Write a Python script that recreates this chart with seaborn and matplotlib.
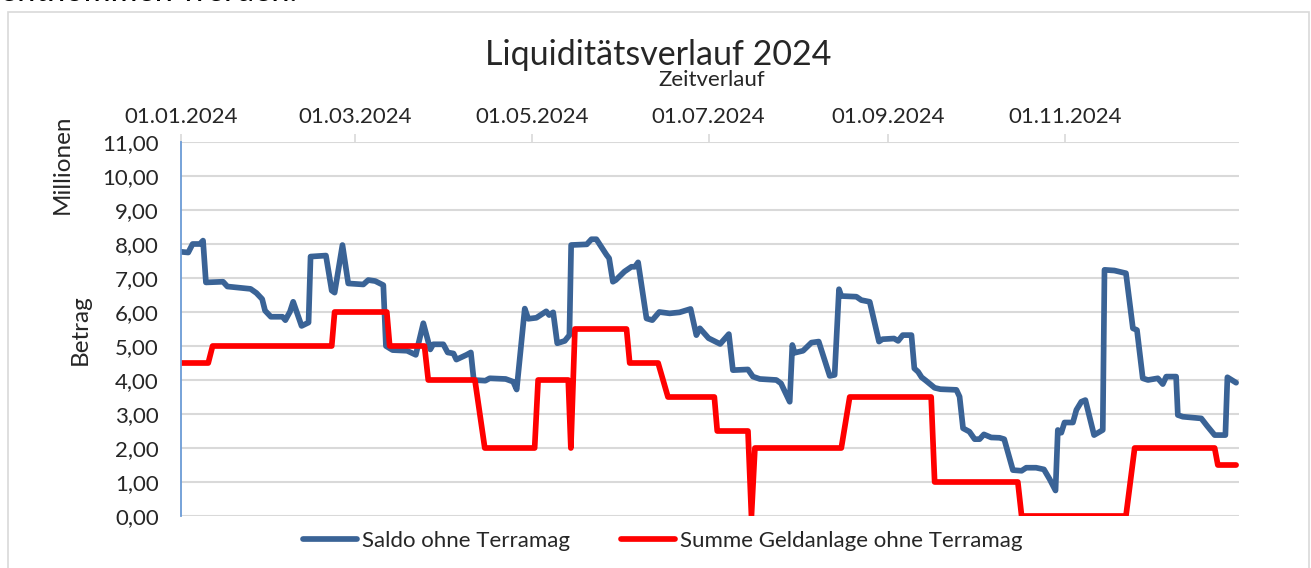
import matplotlib
matplotlib.use("Agg")
import matplotlib.pyplot as plt
import matplotlib.dates as mdates
from matplotlib.ticker import FuncFormatter, MultipleLocator
from matplotlib.patches import Rectangle
import seaborn as sns
import pandas as pd

# Saldo ohne Terramag (Tag im Jahr 2024, Millionen)
saldo_tag = [0, 2.5, 4, 6.5, 7.6, 8.6, 14.5, 16, 24, 26, 28, 29, 31, 35, 36, 37.6, 38.7, 41.6, 44, 44.7,
             50, 52, 53, 55.7, 57.7, 62.9, 64.6, 67, 69.8, 70.7, 73, 78, 81, 83.6, 86, 87, 90.5, 92, 94, 95,
             98.5, 100, 101, 105, 106.5, 112, 114.6, 115.8, 118.6, 119.8, 122.6, 126, 127, 128.4, 129.8,
             132.4, 134, 134.6, 140, 141.6, 143.3, 146.8, 147.7, 149, 150, 153, 155.4, 156.6, 157.7, 160.6,
             162.6, 165, 168.6, 172, 175.8, 177.8, 179, 182, 186, 189, 190.4, 195.6, 197.3, 199.7, 205.4,
             207, 210, 210.9, 211.7, 214.6, 217.5, 220, 223.8, 225.5, 227, 227.8, 233, 234.7, 237.6, 239.5,
             240.8, 242, 246, 247.4, 249, 252, 253, 254.3, 255.5, 257, 260, 262, 267.5, 268.6, 269.8, 272,
             273.8, 275.5, 277, 279.5, 282.4, 284, 287, 290, 291.6, 295, 297.7, 299.7, 301.7, 302.5, 303.7,
             304.8, 307.7, 308.9, 310.6, 312, 315, 318, 318.6, 322, 326, 328.4, 329.8, 331.8, 333.6, 337,
             338.7, 339.9, 343.3, 343.9, 345.6, 352, 354, 356.6, 360.3, 361, 364]
saldo_wert = [7.77, 7.75, 8.0, 8.0, 8.1, 6.87, 6.89, 6.75, 6.68, 6.56, 6.38, 6.04, 5.86, 5.86, 5.76, 6.01, 6.3,
              5.59, 5.69, 7.63, 7.66, 6.63, 6.57, 7.97, 6.84, 6.81, 6.94, 6.91, 6.79, 5.0, 4.88, 4.86, 4.74,
              5.67, 4.9, 5.05, 5.05, 4.81, 4.78, 4.6, 4.74, 4.81, 4.0, 3.98, 4.05, 4.03, 3.95, 3.72, 6.1, 5.8,
              5.83, 6.02, 5.91, 5.99, 5.08, 5.15, 5.32, 7.97, 7.99, 8.14, 8.14, 7.68, 7.58, 6.89, 6.94, 7.19,
              7.33, 7.33, 7.46, 5.81, 5.76, 6.0, 5.96, 5.99, 6.09, 5.32, 5.52, 5.23, 5.06, 5.35, 4.29, 4.31,
              4.1, 4.03, 4.0, 3.9, 3.36, 5.03, 4.8, 4.86, 5.1, 5.13, 4.12, 4.15, 6.67, 6.47, 6.45, 6.35, 6.3,
              5.6, 5.13, 5.2, 5.22, 5.15, 5.32, 5.32, 4.34, 4.24, 4.08, 3.98, 3.77, 3.73, 3.71, 3.51, 2.58,
              2.48, 2.26, 2.26, 2.4, 2.31, 2.3, 2.26, 1.35, 1.33, 1.42, 1.42, 1.37, 1.08, 0.75, 2.53, 2.45,
              2.75, 2.75, 3.12, 3.36, 3.41, 2.38, 2.53, 7.24, 7.22, 7.14, 5.52, 5.47, 4.05, 4.0, 4.05, 3.88,
              4.1, 4.1, 2.97, 2.92, 2.87, 2.65, 2.38, 2.38, 4.08, 3.92]

# Summe Geldanlage ohne Terramag
anlage_tag = [0, 9.4, 10.9, 52, 53, 71, 72, 84, 85.3, 101.4, 104.8, 122, 123.2, 133.6, 134.5, 135.9, 153.7,
              154.8, 164.6, 168, 184, 185, 195.6, 196.8, 198, 227.8, 230.7, 258.8, 260, 288.7, 290, 326, 329,
              356.6, 357.7, 364]
anlage_wert = [4.5, 4.5, 5.0, 5.0, 6.0, 6.0, 5.0, 5.0, 4.0, 4.0, 2.0, 2.0, 4.0, 4.0, 2.0, 5.5, 5.5, 4.5, 4.5,
               3.5, 3.5, 2.5, 2.5, 0.0, 2.0, 2.0, 3.5, 3.5, 1.0, 1.0, 0.0, 0.0, 2.0, 2.0, 1.5, 1.5]

start = pd.Timestamp("2024-01-01")
saldo = pd.DataFrame({"Datum": start + pd.to_timedelta(saldo_tag, unit="D"), "Betrag": saldo_wert})
anlage = pd.DataFrame({"Datum": start + pd.to_timedelta(anlage_tag, unit="D"), "Betrag": anlage_wert})

sns.set_style("white")
plt.rcParams["font.family"] = ["Lato", "DejaVu Sans"]

fig = plt.figure(figsize=(13.11, 5.68), dpi=100)
W, H = 1311, 568
ax = fig.add_axes([181 / W, 1 - 516 / H, (1239 - 181) / W, (516 - 142) / H])

# chart border
fig.patches.append(Rectangle((8 / W, -0.05), (1309 - 8) / W, 1.05 - 12 / H, transform=fig.transFigure,
                             fill=False, edgecolor="#d9d9d9", linewidth=1.2))
fig.text(0.0, 1 - 1 / H, "entnommen werden.", fontsize=23.5, va="baseline", ha="left", color="black")

sns.lineplot(data=saldo, x="Datum", y="Betrag", ax=ax, color="#3a6396", linewidth=4.1,
             label="Saldo ohne Terramag", legend=False)
sns.lineplot(data=anlage, x="Datum", y="Betrag", ax=ax, color="#ff0000", linewidth=4.1,
             label="Summe Geldanlage ohne Terramag", legend=False)

ax.set_xlim(start, pd.Timestamp("2024-12-31"))
ax.set_ylim(0, 11)
ax.yaxis.set_major_locator(MultipleLocator(1))
ax.yaxis.set_major_formatter(FuncFormatter(lambda v, p: f"{v:.2f}".replace(".", ",")))
ax.xaxis.set_major_locator(mdates.MonthLocator(bymonth=[1, 3, 5, 7, 9, 11]))
ax.xaxis.set_major_formatter(mdates.DateFormatter("%d.%m.%Y"))
ax.xaxis.tick_top()

ax.grid(axis="y", color="#d9d9d9", linewidth=1.5)
ax.set_axisbelow(True)
for s in ["right", "bottom", "top"]:
    ax.spines[s].set_visible(False)
ax.spines["left"].set_color("#6b9bd6")
ax.spines["left"].set_linewidth(1.3)
ax.tick_params(axis="y", direction="out", length=5, width=1.3, color="#6b9bd6", labelsize=16, pad=11)
ax.tick_params(axis="x", direction="out", length=6, width=1.2, color="#d9d9d9", labelsize=16, pad=5,
               top=True, bottom=False)

ax.set_xlabel("")
ax.set_ylabel("")
fig.text(712 / W, 1 - 80 / H, "Zeitverlauf", fontsize=16, ha="center", va="center")
fig.text(80 / W, 1 - 330 / H, "Betrag", rotation=90, fontsize=17.5, ha="center", va="center")
fig.text(62 / W, 1 - 164 / H, "Millionen", rotation=90, fontsize=17.5, ha="center", va="center")
fig.text(658 / W, 1 - 55 / H, "Liquiditätsverlauf 2024", fontsize=24.5, ha="center", va="center")

fig.legend(loc="center", bbox_to_anchor=(663 / W, 1 - 541 / H), ncol=2, frameon=False, fontsize=16,
           handlelength=2.4, handletextpad=0.25, columnspacing=2.3)

fig.savefig("out.png", dpi=100)
